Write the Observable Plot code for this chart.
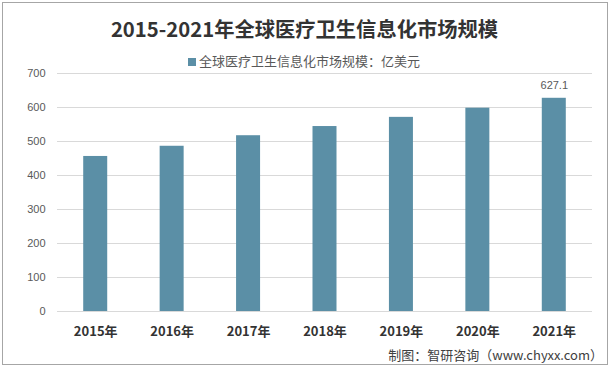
<!DOCTYPE html>
<html>
<head>
<meta charset="utf-8">
<script src="https://cdn.jsdelivr.net/npm/d3@7"></script>
<script src="https://cdn.jsdelivr.net/npm/@observablehq/plot@0.6"></script>
<style>
  html, body { margin: 0; padding: 0; background: #fff; }
  #wrap { position: relative; width: 609px; height: 368px; overflow: hidden;
          font-family: "Liberation Sans", "Noto Sans CJK SC", sans-serif; }
  #border { position: absolute; left: 2px; top: 2px; width: 606px; height: 363px;
            box-sizing: border-box; border: 1px solid #a6a6a6; }
  #chart { position: absolute; left: 0; top: 0; }
  #title { position: absolute; left: 0; width: 609px; top: 14px; text-align: center;
           font-family: "Noto Sans CJK SC", sans-serif; font-weight: bold; font-size: 20.3px;
           line-height: 28px; color: #333; }
  #legend { position: absolute; left: 188px; top: 52px; font-size: 13px; line-height: 18px;
            color: #595959; font-family: "Noto Sans CJK SC", sans-serif; white-space: nowrap; }
  #legend .sw { display: inline-block; width: 8px; height: 8px; background: #5b8fa6;
                margin-right: 3px; vertical-align: 0px; }
  #source { position: absolute; right: 6px; top: 345px; font-size: 13px; line-height: 20px;
            color: #404040; font-family: "Noto Sans CJK SC", sans-serif; white-space: nowrap; }
</style>
</head>
<body>
<div id="wrap">
  <div id="chart"></div>
  <div id="border"></div>
  <div id="title"></div>
  <div id="legend"></div>
  <div id="source"></div>
</div>
<script>
const titleText = "2015-2021年全球医疗卫生信息化市场规模";
const seriesName = "全球医疗卫生信息化市场规模：亿美元";
const sourceText = "制图：智研咨询（www.chyxx.com）";
const years = ["2015年", "2016年", "2017年", "2018年", "2019年", "2020年", "2021年"];
const values = [456, 486, 517, 544, 571, 598, 627.1];
const yTicks = [0, 100, 200, 300, 400, 500, 600, 700];
const labeled = ["2021年"];

const color = "#5b8fa6";
const data = years.map((y, i) => ({year: y, value: values[i]}));

document.getElementById("title").textContent = titleText;
document.getElementById("legend").innerHTML = '<span class="sw"></span>' + seriesName;
document.getElementById("source").textContent = sourceText;

const chart = Plot.plot({
  width: 609,
  height: 368,
  marginLeft: 57,
  marginRight: 17,
  marginTop: 73,
  marginBottom: 57,
  style: {fontFamily: "Liberation Sans, Noto Sans CJK SC, sans-serif", background: "transparent"},
  x: {domain: years, paddingInner: 0.686, paddingOuter: 0.343, round: false, label: null},
  y: {domain: [0, 700], label: null},
  marks: [
    Plot.ruleY(yTicks, {stroke: "#d9d9d9", strokeWidth: 1}),
    Plot.barY(data, {x: "year", y: "value", fill: color}),
    Plot.text(data.filter(d => labeled.includes(d.year)), {
      x: "year", y: "value", text: d => d.value.toFixed(1), dy: -13,
      fill: "#595959", fontSize: 11
    }),
    Plot.axisY({ticks: yTicks, tickSize: 0, tickPadding: 12, fontSize: 11,
                color: "#595959", label: null}),
    Plot.axisX({tickSize: 0, tickPadding: 15, fontSize: 13, fontWeight: "bold",
                color: "#333", label: null,
                fontFamily: "Noto Sans CJK SC, sans-serif"})
  ]
});
document.getElementById("chart").appendChild(chart);
</script>
</body>
</html>
